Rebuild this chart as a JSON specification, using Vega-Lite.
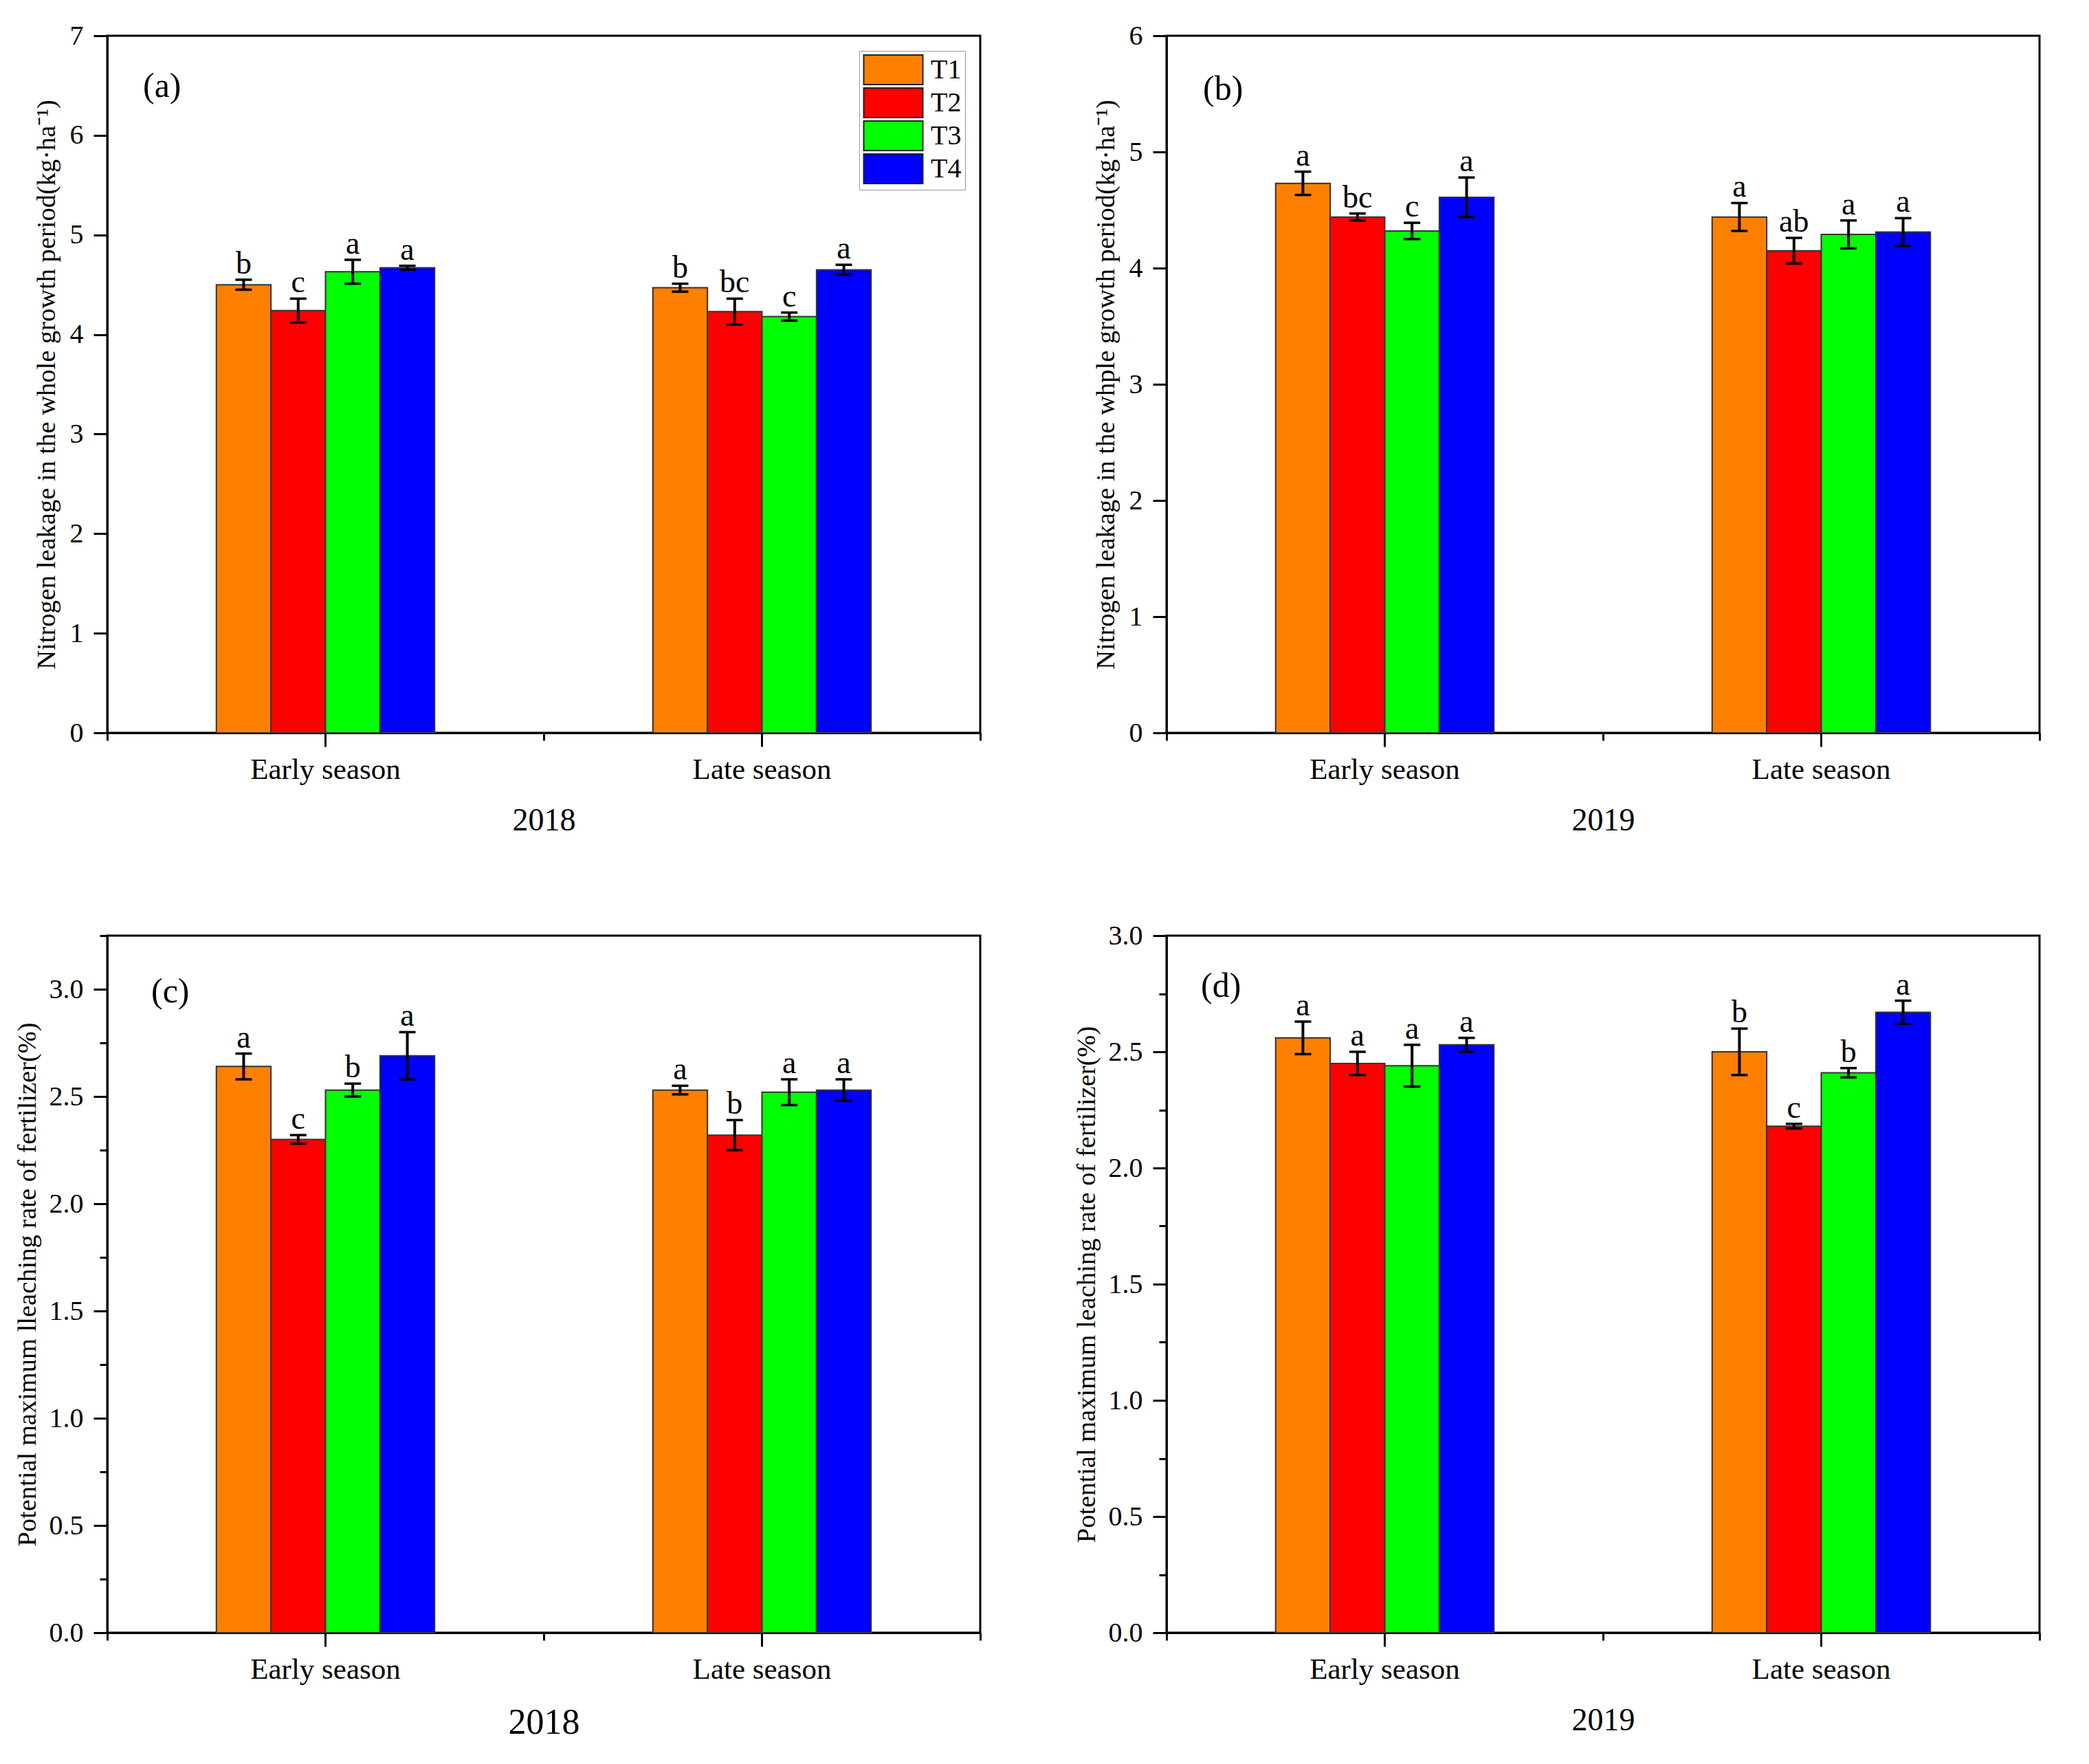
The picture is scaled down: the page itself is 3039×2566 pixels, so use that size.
{
  "$schema": "https://vega.github.io/schema/vega-lite/v6.json",
  "background": "white",
  "padding": {"left": 18, "top": 30, "right": 10, "bottom": 10},
  "bounds": "flush",
  "columns": 2,
  "spacing": {"row": 295, "column": 271},
  "config": {
    "font": "Liberation Serif",
    "view": {"stroke": "black", "strokeWidth": 3},
    "axis": {"grid": false, "labelColor": "black", "titleColor": "black", "titleFontWeight": "normal", "labelFont": "Liberation Serif", "titleFont": "Liberation Serif", "labelLimit": 0},
    "title": {"font": "Liberation Serif", "fontWeight": "normal", "color": "black"}
  },
  "resolve": {"legend": {"color": "independent"}},
  "datasets": {
    "d": [
      {"p": "a", "season": "Early season", "trt": "T1", "v": 4.50, "lo": 4.45, "hi": 4.55, "sig": "b"},
      {"p": "a", "season": "Early season", "trt": "T2", "v": 4.24, "lo": 4.12, "hi": 4.36, "sig": "c"},
      {"p": "a", "season": "Early season", "trt": "T3", "v": 4.63, "lo": 4.51, "hi": 4.75, "sig": "a"},
      {"p": "a", "season": "Early season", "trt": "T4", "v": 4.67, "lo": 4.65, "hi": 4.69, "sig": "a"},
      {"p": "a", "season": "Late season", "trt": "T1", "v": 4.47, "lo": 4.43, "hi": 4.51, "sig": "b"},
      {"p": "a", "season": "Late season", "trt": "T2", "v": 4.23, "lo": 4.10, "hi": 4.36, "sig": "bc"},
      {"p": "a", "season": "Late season", "trt": "T3", "v": 4.18, "lo": 4.14, "hi": 4.22, "sig": "c"},
      {"p": "a", "season": "Late season", "trt": "T4", "v": 4.65, "lo": 4.60, "hi": 4.70, "sig": "a"},
      {"p": "b", "season": "Early season", "trt": "T1", "v": 4.73, "lo": 4.63, "hi": 4.83, "sig": "a"},
      {"p": "b", "season": "Early season", "trt": "T2", "v": 4.44, "lo": 4.41, "hi": 4.47, "sig": "bc"},
      {"p": "b", "season": "Early season", "trt": "T3", "v": 4.32, "lo": 4.25, "hi": 4.39, "sig": "c"},
      {"p": "b", "season": "Early season", "trt": "T4", "v": 4.61, "lo": 4.44, "hi": 4.78, "sig": "a"},
      {"p": "b", "season": "Late season", "trt": "T1", "v": 4.44, "lo": 4.32, "hi": 4.56, "sig": "a"},
      {"p": "b", "season": "Late season", "trt": "T2", "v": 4.15, "lo": 4.04, "hi": 4.26, "sig": "ab"},
      {"p": "b", "season": "Late season", "trt": "T3", "v": 4.29, "lo": 4.17, "hi": 4.41, "sig": "a"},
      {"p": "b", "season": "Late season", "trt": "T4", "v": 4.31, "lo": 4.19, "hi": 4.43, "sig": "a"},
      {"p": "c", "season": "Early season", "trt": "T1", "v": 2.64, "lo": 2.58, "hi": 2.70, "sig": "a"},
      {"p": "c", "season": "Early season", "trt": "T2", "v": 2.30, "lo": 2.28, "hi": 2.32, "sig": "c"},
      {"p": "c", "season": "Early season", "trt": "T3", "v": 2.53, "lo": 2.50, "hi": 2.56, "sig": "b"},
      {"p": "c", "season": "Early season", "trt": "T4", "v": 2.69, "lo": 2.58, "hi": 2.80, "sig": "a"},
      {"p": "c", "season": "Late season", "trt": "T1", "v": 2.53, "lo": 2.51, "hi": 2.55, "sig": "a"},
      {"p": "c", "season": "Late season", "trt": "T2", "v": 2.32, "lo": 2.25, "hi": 2.39, "sig": "b"},
      {"p": "c", "season": "Late season", "trt": "T3", "v": 2.52, "lo": 2.46, "hi": 2.58, "sig": "a"},
      {"p": "c", "season": "Late season", "trt": "T4", "v": 2.53, "lo": 2.48, "hi": 2.58, "sig": "a"},
      {"p": "d", "season": "Early season", "trt": "T1", "v": 2.56, "lo": 2.49, "hi": 2.63, "sig": "a"},
      {"p": "d", "season": "Early season", "trt": "T2", "v": 2.45, "lo": 2.40, "hi": 2.50, "sig": "a"},
      {"p": "d", "season": "Early season", "trt": "T3", "v": 2.44, "lo": 2.35, "hi": 2.53, "sig": "a"},
      {"p": "d", "season": "Early season", "trt": "T4", "v": 2.53, "lo": 2.50, "hi": 2.56, "sig": "a"},
      {"p": "d", "season": "Late season", "trt": "T1", "v": 2.50, "lo": 2.40, "hi": 2.60, "sig": "b"},
      {"p": "d", "season": "Late season", "trt": "T2", "v": 2.18, "lo": 2.17, "hi": 2.19, "sig": "c"},
      {"p": "d", "season": "Late season", "trt": "T3", "v": 2.41, "lo": 2.39, "hi": 2.43, "sig": "b"},
      {"p": "d", "season": "Late season", "trt": "T4", "v": 2.67, "lo": 2.62, "hi": 2.72, "sig": "a"}
    ]
  },
  "concat": [
    {
      "width": 1270, "height": 1014,
      "data": {"name": "d"},
      "transform": [{"filter": "datum.p === 'a'"}],
      "title": {"text": "(a)", "anchor": "start", "frame": "group", "orient": "top", "offset": 0, "baseline": "middle", "dx": 52, "dy": 144, "fontSize": 50},
      "resolve": {"axis": {"x": "independent"}},
      "layer": [
        {
          "mark": {"type": "bar", "stroke": "#333", "strokeWidth": 2},
          "encoding": {
            "x": {"field": "season", "type": "nominal", "sort": null, "scale": {"paddingInner": 0, "paddingOuter": 0},
              "axis": {"orient": "bottom", "title": "2018", "titleFontSize": 46, "titlePadding": 30, "labelAngle": 0, "labelFontSize": 43, "labelPadding": 12, "tickSize": 20, "tickWidth": 3, "tickColor": "black", "domainColor": "black", "domainWidth": 3}},
            "xOffset": {"field": "trt", "type": "nominal", "scale": {"domain": ["p0", "p1", "T1", "T2", "T3", "T4", "p2", "p3"], "paddingInner": 0, "paddingOuter": 0}},
            "y": {"field": "v", "type": "quantitative", "scale": {"domain": [0, 7], "nice": false}, "title": "Nitrogen leakage in the whole growth period(kg·ha⁻¹)",
              "axis": {"values": [0, 0.5, 1, 1.5, 2, 2.5, 3, 3.5, 4, 4.5, 5, 5.5, 6, 6.5, 7], "format": "d", "labelExpr": "datum.value % 1 === 0 ? datum.label : ''", "tickSize": {"condition": {"test": "datum.value % 1 === 0", "value": 20}, "value": 11}, "tickWidth": 3, "tickColor": "black", "domainColor": "black", "domainWidth": 3, "labelFontSize": 40, "labelPadding": 15, "titleFontSize": 38.5, "titlePadding": 14}},
            "color": {"field": "trt", "type": "nominal", "scale": {"domain": ["T1", "T2", "T3", "T4"], "range": ["#FF8000", "#FF0000", "#00FF00", "#0000FF"]},
              "legend": {"title": null, "orient": "top-right", "offset": 22, "symbolType": "M-2,-1H2V1H-2Z", "symbolSize": 1849, "symbolOffset": 22, "symbolStrokeColor": "#222", "symbolStrokeWidth": 2, "symbolOpacity": 1, "labelFontSize": 40, "labelFont": "Liberation Serif", "labelColor": "black", "labelOffset": 32, "rowPadding": -5, "strokeColor": "#999", "padding": 5, "fillColor": "white"}}
          }
        },
        {
          "mark": {"type": "rule", "strokeWidth": 4, "color": "black"},
          "encoding": {
            "x": {"field": "season", "type": "nominal", "sort": null, "axis": {"orient": "bottom", "title": null, "labels": false, "domain": false, "tickBand": "extent", "tickSize": 11, "tickWidth": 3, "tickColor": "black"}},
            "xOffset": {"field": "trt", "type": "nominal", "scale": {"domain": ["p0", "p1", "T1", "T2", "T3", "T4", "p2", "p3"], "paddingInner": 0, "paddingOuter": 0}},
            "y": {"field": "lo", "type": "quantitative", "title": "Nitrogen leakage in the whole growth period(kg·ha⁻¹)"},
            "y2": {"field": "hi"}
          }
        },
        {
          "mark": {"type": "tick", "size": 24, "thickness": 3.5, "color": "black", "opacity": 1},
          "encoding": {"x": {"field": "season", "type": "nominal", "sort": null, "axis": null}, "xOffset": {"field": "trt", "type": "nominal", "scale": {"domain": ["p0", "p1", "T1", "T2", "T3", "T4", "p2", "p3"], "paddingInner": 0, "paddingOuter": 0}}, "y": {"field": "lo", "type": "quantitative", "title": "Nitrogen leakage in the whole growth period(kg·ha⁻¹)"}}
        },
        {
          "mark": {"type": "tick", "size": 24, "thickness": 3.5, "color": "black", "opacity": 1},
          "encoding": {"x": {"field": "season", "type": "nominal", "sort": null, "axis": null}, "xOffset": {"field": "trt", "type": "nominal", "scale": {"domain": ["p0", "p1", "T1", "T2", "T3", "T4", "p2", "p3"], "paddingInner": 0, "paddingOuter": 0}}, "y": {"field": "hi", "type": "quantitative", "title": "Nitrogen leakage in the whole growth period(kg·ha⁻¹)"}}
        },
        {
          "mark": {"type": "text", "baseline": "alphabetic", "dy": -9, "fontSize": 46, "color": "black"},
          "encoding": {"x": {"field": "season", "type": "nominal", "sort": null, "axis": null}, "xOffset": {"field": "trt", "type": "nominal", "scale": {"domain": ["p0", "p1", "T1", "T2", "T3", "T4", "p2", "p3"], "paddingInner": 0, "paddingOuter": 0}}, "y": {"field": "hi", "type": "quantitative", "title": "Nitrogen leakage in the whole growth period(kg·ha⁻¹)"}, "text": {"field": "sig"}}
        }
      ]
    },
    {
      "width": 1270, "height": 1014,
      "data": {"name": "d"},
      "transform": [{"filter": "datum.p === 'b'"}],
      "title": {"text": "(b)", "anchor": "start", "frame": "group", "orient": "top", "offset": 0, "baseline": "middle", "dx": 53, "dy": 148, "fontSize": 50},
      "resolve": {"axis": {"x": "independent"}},
      "layer": [
        {
          "mark": {"type": "bar", "stroke": "#333", "strokeWidth": 2},
          "encoding": {
            "x": {"field": "season", "type": "nominal", "sort": null, "scale": {"paddingInner": 0, "paddingOuter": 0},
              "axis": {"orient": "bottom", "title": "2019", "titleFontSize": 46, "titlePadding": 30, "labelAngle": 0, "labelFontSize": 43, "labelPadding": 12, "tickSize": 20, "tickWidth": 3, "tickColor": "black", "domainColor": "black", "domainWidth": 3}},
            "xOffset": {"field": "trt", "type": "nominal", "scale": {"domain": ["p0", "p1", "T1", "T2", "T3", "T4", "p2", "p3"], "paddingInner": 0, "paddingOuter": 0}},
            "y": {"field": "v", "type": "quantitative", "scale": {"domain": [0, 6], "nice": false}, "title": "Nitrogen leakage in the whple growth period(kg·ha⁻¹)",
              "axis": {"values": [0, 0.5, 1, 1.5, 2, 2.5, 3, 3.5, 4, 4.5, 5, 5.5, 6], "format": "d", "labelExpr": "datum.value % 1 === 0 ? datum.label : ''", "tickSize": {"condition": {"test": "datum.value % 1 === 0", "value": 20}, "value": 11}, "tickWidth": 3, "tickColor": "black", "domainColor": "black", "domainWidth": 3, "labelFontSize": 40, "labelPadding": 15, "titleFontSize": 38.5, "titlePadding": 14}},
            "color": {"field": "trt", "type": "nominal", "scale": {"domain": ["T1", "T2", "T3", "T4"], "range": ["#FF8000", "#FF0000", "#00FF00", "#0000FF"]}, "legend": null}
          }
        },
        {
          "mark": {"type": "rule", "strokeWidth": 4, "color": "black"},
          "encoding": {
            "x": {"field": "season", "type": "nominal", "sort": null, "axis": {"orient": "bottom", "title": null, "labels": false, "domain": false, "tickBand": "extent", "tickSize": 11, "tickWidth": 3, "tickColor": "black"}},
            "xOffset": {"field": "trt", "type": "nominal", "scale": {"domain": ["p0", "p1", "T1", "T2", "T3", "T4", "p2", "p3"], "paddingInner": 0, "paddingOuter": 0}},
            "y": {"field": "lo", "type": "quantitative", "title": "Nitrogen leakage in the whple growth period(kg·ha⁻¹)"},
            "y2": {"field": "hi"}
          }
        },
        {
          "mark": {"type": "tick", "size": 24, "thickness": 3.5, "color": "black", "opacity": 1},
          "encoding": {"x": {"field": "season", "type": "nominal", "sort": null, "axis": null}, "xOffset": {"field": "trt", "type": "nominal", "scale": {"domain": ["p0", "p1", "T1", "T2", "T3", "T4", "p2", "p3"], "paddingInner": 0, "paddingOuter": 0}}, "y": {"field": "lo", "type": "quantitative", "title": "Nitrogen leakage in the whple growth period(kg·ha⁻¹)"}}
        },
        {
          "mark": {"type": "tick", "size": 24, "thickness": 3.5, "color": "black", "opacity": 1},
          "encoding": {"x": {"field": "season", "type": "nominal", "sort": null, "axis": null}, "xOffset": {"field": "trt", "type": "nominal", "scale": {"domain": ["p0", "p1", "T1", "T2", "T3", "T4", "p2", "p3"], "paddingInner": 0, "paddingOuter": 0}}, "y": {"field": "hi", "type": "quantitative", "title": "Nitrogen leakage in the whple growth period(kg·ha⁻¹)"}}
        },
        {
          "mark": {"type": "text", "baseline": "alphabetic", "dy": -9, "fontSize": 46, "color": "black"},
          "encoding": {"x": {"field": "season", "type": "nominal", "sort": null, "axis": null}, "xOffset": {"field": "trt", "type": "nominal", "scale": {"domain": ["p0", "p1", "T1", "T2", "T3", "T4", "p2", "p3"], "paddingInner": 0, "paddingOuter": 0}}, "y": {"field": "hi", "type": "quantitative", "title": "Nitrogen leakage in the whple growth period(kg·ha⁻¹)"}, "text": {"field": "sig"}}
        }
      ]
    },
    {
      "width": 1270, "height": 1014,
      "data": {"name": "d"},
      "transform": [{"filter": "datum.p === 'c'"}],
      "title": {"text": "(c)", "anchor": "start", "frame": "group", "orient": "top", "offset": 0, "baseline": "middle", "dx": 64, "dy": 133, "fontSize": 50},
      "resolve": {"axis": {"x": "independent"}},
      "layer": [
        {
          "mark": {"type": "bar", "stroke": "#333", "strokeWidth": 2},
          "encoding": {
            "x": {"field": "season", "type": "nominal", "sort": null, "scale": {"paddingInner": 0, "paddingOuter": 0},
              "axis": {"orient": "bottom", "title": "2018", "titleFontSize": 52, "titlePadding": 30, "labelAngle": 0, "labelFontSize": 43, "labelPadding": 12, "tickSize": 20, "tickWidth": 3, "tickColor": "black", "domainColor": "black", "domainWidth": 3}},
            "xOffset": {"field": "trt", "type": "nominal", "scale": {"domain": ["p0", "p1", "T1", "T2", "T3", "T4", "p2", "p3"], "paddingInner": 0, "paddingOuter": 0}},
            "y": {"field": "v", "type": "quantitative", "scale": {"domain": [0, 3.25], "nice": false}, "title": "Potential maximum lleaching rate of fertilizer(%)",
              "axis": {"values": [0, 0.25, 0.5, 0.75, 1, 1.25, 1.5, 1.75, 2, 2.25, 2.5, 2.75, 3, 3.25], "format": ".1f", "labelExpr": "(datum.value * 2) % 1 === 0 ? datum.label : ''", "tickSize": {"condition": {"test": "(datum.value * 2) % 1 === 0", "value": 20}, "value": 11}, "tickWidth": 3, "tickColor": "black", "domainColor": "black", "domainWidth": 3, "labelFontSize": 40, "labelPadding": 15, "titleFontSize": 38.5, "titlePadding": 12}},
            "color": {"field": "trt", "type": "nominal", "scale": {"domain": ["T1", "T2", "T3", "T4"], "range": ["#FF8000", "#FF0000", "#00FF00", "#0000FF"]}, "legend": null}
          }
        },
        {
          "mark": {"type": "rule", "strokeWidth": 4, "color": "black"},
          "encoding": {
            "x": {"field": "season", "type": "nominal", "sort": null, "axis": {"orient": "bottom", "title": null, "labels": false, "domain": false, "tickBand": "extent", "tickSize": 11, "tickWidth": 3, "tickColor": "black"}},
            "xOffset": {"field": "trt", "type": "nominal", "scale": {"domain": ["p0", "p1", "T1", "T2", "T3", "T4", "p2", "p3"], "paddingInner": 0, "paddingOuter": 0}},
            "y": {"field": "lo", "type": "quantitative", "title": "Potential maximum lleaching rate of fertilizer(%)"},
            "y2": {"field": "hi"}
          }
        },
        {
          "mark": {"type": "tick", "size": 24, "thickness": 3.5, "color": "black", "opacity": 1},
          "encoding": {"x": {"field": "season", "type": "nominal", "sort": null, "axis": null}, "xOffset": {"field": "trt", "type": "nominal", "scale": {"domain": ["p0", "p1", "T1", "T2", "T3", "T4", "p2", "p3"], "paddingInner": 0, "paddingOuter": 0}}, "y": {"field": "lo", "type": "quantitative", "title": "Potential maximum lleaching rate of fertilizer(%)"}}
        },
        {
          "mark": {"type": "tick", "size": 24, "thickness": 3.5, "color": "black", "opacity": 1},
          "encoding": {"x": {"field": "season", "type": "nominal", "sort": null, "axis": null}, "xOffset": {"field": "trt", "type": "nominal", "scale": {"domain": ["p0", "p1", "T1", "T2", "T3", "T4", "p2", "p3"], "paddingInner": 0, "paddingOuter": 0}}, "y": {"field": "hi", "type": "quantitative", "title": "Potential maximum lleaching rate of fertilizer(%)"}}
        },
        {
          "mark": {"type": "text", "baseline": "alphabetic", "dy": -9, "fontSize": 46, "color": "black"},
          "encoding": {"x": {"field": "season", "type": "nominal", "sort": null, "axis": null}, "xOffset": {"field": "trt", "type": "nominal", "scale": {"domain": ["p0", "p1", "T1", "T2", "T3", "T4", "p2", "p3"], "paddingInner": 0, "paddingOuter": 0}}, "y": {"field": "hi", "type": "quantitative", "title": "Potential maximum lleaching rate of fertilizer(%)"}, "text": {"field": "sig"}}
        }
      ]
    },
    {
      "width": 1270, "height": 1014,
      "data": {"name": "d"},
      "transform": [{"filter": "datum.p === 'd'"}],
      "title": {"text": "(d)", "anchor": "start", "frame": "group", "orient": "top", "offset": 0, "baseline": "middle", "dx": 50, "dy": 144, "fontSize": 50},
      "resolve": {"axis": {"x": "independent"}},
      "layer": [
        {
          "mark": {"type": "bar", "stroke": "#333", "strokeWidth": 2},
          "encoding": {
            "x": {"field": "season", "type": "nominal", "sort": null, "scale": {"paddingInner": 0, "paddingOuter": 0},
              "axis": {"orient": "bottom", "title": "2019", "titleFontSize": 46, "titlePadding": 30, "labelAngle": 0, "labelFontSize": 43, "labelPadding": 12, "tickSize": 20, "tickWidth": 3, "tickColor": "black", "domainColor": "black", "domainWidth": 3}},
            "xOffset": {"field": "trt", "type": "nominal", "scale": {"domain": ["p0", "p1", "T1", "T2", "T3", "T4", "p2", "p3"], "paddingInner": 0, "paddingOuter": 0}},
            "y": {"field": "v", "type": "quantitative", "scale": {"domain": [0, 3], "nice": false}, "title": "Potential maximum leaching rate of fertilizer(%)",
              "axis": {"values": [0, 0.25, 0.5, 0.75, 1, 1.25, 1.5, 1.75, 2, 2.25, 2.5, 2.75, 3], "format": ".1f", "labelExpr": "(datum.value * 2) % 1 === 0 ? datum.label : ''", "tickSize": {"condition": {"test": "(datum.value * 2) % 1 === 0", "value": 20}, "value": 11}, "tickWidth": 3, "tickColor": "black", "domainColor": "black", "domainWidth": 3, "labelFontSize": 40, "labelPadding": 15, "titleFontSize": 38.5, "titlePadding": 12}},
            "color": {"field": "trt", "type": "nominal", "scale": {"domain": ["T1", "T2", "T3", "T4"], "range": ["#FF8000", "#FF0000", "#00FF00", "#0000FF"]}, "legend": null}
          }
        },
        {
          "mark": {"type": "rule", "strokeWidth": 4, "color": "black"},
          "encoding": {
            "x": {"field": "season", "type": "nominal", "sort": null, "axis": {"orient": "bottom", "title": null, "labels": false, "domain": false, "tickBand": "extent", "tickSize": 11, "tickWidth": 3, "tickColor": "black"}},
            "xOffset": {"field": "trt", "type": "nominal", "scale": {"domain": ["p0", "p1", "T1", "T2", "T3", "T4", "p2", "p3"], "paddingInner": 0, "paddingOuter": 0}},
            "y": {"field": "lo", "type": "quantitative", "title": "Potential maximum leaching rate of fertilizer(%)"},
            "y2": {"field": "hi"}
          }
        },
        {
          "mark": {"type": "tick", "size": 24, "thickness": 3.5, "color": "black", "opacity": 1},
          "encoding": {"x": {"field": "season", "type": "nominal", "sort": null, "axis": null}, "xOffset": {"field": "trt", "type": "nominal", "scale": {"domain": ["p0", "p1", "T1", "T2", "T3", "T4", "p2", "p3"], "paddingInner": 0, "paddingOuter": 0}}, "y": {"field": "lo", "type": "quantitative", "title": "Potential maximum leaching rate of fertilizer(%)"}}
        },
        {
          "mark": {"type": "tick", "size": 24, "thickness": 3.5, "color": "black", "opacity": 1},
          "encoding": {"x": {"field": "season", "type": "nominal", "sort": null, "axis": null}, "xOffset": {"field": "trt", "type": "nominal", "scale": {"domain": ["p0", "p1", "T1", "T2", "T3", "T4", "p2", "p3"], "paddingInner": 0, "paddingOuter": 0}}, "y": {"field": "hi", "type": "quantitative", "title": "Potential maximum leaching rate of fertilizer(%)"}}
        },
        {
          "mark": {"type": "text", "baseline": "alphabetic", "dy": -9, "fontSize": 46, "color": "black"},
          "encoding": {"x": {"field": "season", "type": "nominal", "sort": null, "axis": null}, "xOffset": {"field": "trt", "type": "nominal", "scale": {"domain": ["p0", "p1", "T1", "T2", "T3", "T4", "p2", "p3"], "paddingInner": 0, "paddingOuter": 0}}, "y": {"field": "hi", "type": "quantitative", "title": "Potential maximum leaching rate of fertilizer(%)"}, "text": {"field": "sig"}}
        }
      ]
    }
  ]
}
